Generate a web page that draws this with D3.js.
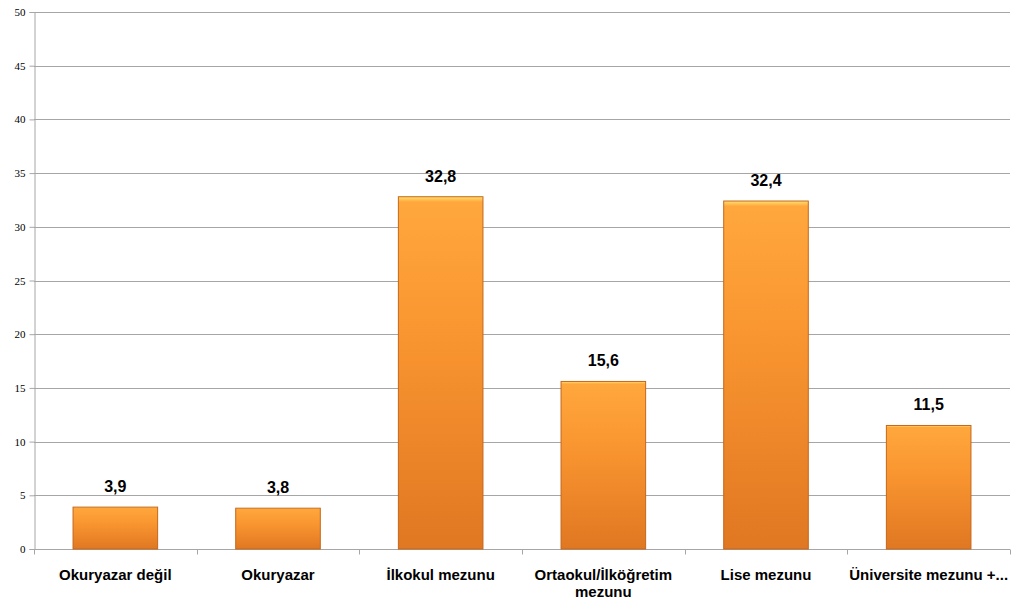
<!DOCTYPE html>
<html>
<head>
<meta charset="utf-8">
<script src="https://cdn.jsdelivr.net/npm/d3@7"></script>
<style>
  body { margin: 0; background: #fff; }
  svg { display: block; }
</style>
</head>
<body>
<svg width="1024" height="611"></svg>
<script>
// chart data
var categories = ['Okuryazar değil', 'Okuryazar', 'İlkokul mezunu', 'Ortaokul/İlköğretim mezunu', 'Lise mezunu', 'Üniversite mezunu +...'];
var values = [3.9, 3.8, 32.8, 15.6, 32.4, 11.5];
var yTicks = [0, 5, 10, 15, 20, 25, 30, 35, 40, 45, 50];

var svg = d3.select('svg');
var svgWidth = +svg.attr('width');
var svgHeight = +svg.attr('height');

var padding = {t: 12, r: 14, b: 62, l: 34};
var chartWidth = svgWidth - padding.l - padding.r;
var chartHeight = svgHeight - padding.t - padding.b;

var chartG = svg.append('g')
  .attr('transform', 'translate(' + [padding.l, padding.t] + ')');

var xScale = d3.scaleBand()
  .domain(categories)
  .range([0, chartWidth])
  .paddingInner(0.48)
  .paddingOuter(0.24);

var yScale = d3.scaleLinear()
  .domain([0, 50])
  .range([chartHeight, 0]);

// gradient for bars
var defs = svg.append('defs');
var grad = defs.append('linearGradient')
  .attr('id', 'bar-gradient')
  .attr('x1', 0).attr('y1', 0).attr('x2', 0).attr('y2', 1);
grad.selectAll('stop')
  .data([
    {offset: '0%', color: '#ffe070'},
    {offset: '1.5%', color: '#ffa73c'},
    {offset: '40%', color: '#f99530'},
    {offset: '100%', color: '#e07722'}
  ])
  .enter().append('stop')
  .attr('offset', function(d) { return d.offset; })
  .attr('stop-color', function(d) { return d.color; });

// gridlines
chartG.append('g')
  .selectAll('line')
  .data(yTicks)
  .enter().append('line')
  .attr('x1', 0)
  .attr('x2', chartWidth)
  .attr('y1', function(d) { return Math.round(yScale(d)) + 0.5; })
  .attr('y2', function(d) { return Math.round(yScale(d)) + 0.5; })
  .attr('stroke', '#a6a6a6')
  .attr('stroke-width', 1);

// y axis
var yAxis = chartG.append('g')
  .attr('transform', 'translate(0.5,0)')
  .call(d3.axisLeft(yScale).tickValues(yTicks).tickSize(5).tickPadding(4));
yAxis.selectAll('line, path').attr('stroke', '#a6a6a6');
yAxis.selectAll('text')
  .style('font-family', '"Liberation Serif", "DejaVu Serif", serif')
  .style('font-size', '11px')
  .attr('fill', '#000');

// x axis with ticks at band edges
var xAxisG = chartG.append('g')
  .attr('transform', 'translate(0,' + (Math.round(chartHeight) + 0.5) + ')');
xAxisG.append('line')
  .attr('x1', 0).attr('x2', chartWidth)
  .attr('stroke', '#a6a6a6');
var edges = d3.range(categories.length + 1).map(function(i) { return chartWidth * i / categories.length; });
xAxisG.selectAll('.edge')
  .data(edges)
  .enter().append('line')
  .attr('class', 'edge')
  .attr('x1', function(d) { return Math.round(d) + 0.5; })
  .attr('x2', function(d) { return Math.round(d) + 0.5; })
  .attr('y1', 0).attr('y2', 5)
  .attr('stroke', '#a6a6a6');

// category labels
var catLabels = xAxisG.selectAll('.cat')
  .data(categories)
  .enter().append('text')
  .attr('class', 'cat')
  .attr('x', function(d) { return xScale(d) + xScale.bandwidth() / 2; })
  .attr('y', 30)
  .attr('text-anchor', 'middle')
  .style('font-family', '"Liberation Sans", Arial, sans-serif')
  .style('font-weight', 'bold')
  .style('font-size', '15px')
  .attr('fill', '#000');
catLabels.each(function(d) {
  var el = d3.select(this);
  var parts = d === 'Ortaokul/İlköğretim mezunu' ? ['Ortaokul/İlköğretim', 'mezunu'] : [d];
  parts.forEach(function(p, i) {
    el.append('tspan')
      .attr('x', xScale(d) + xScale.bandwidth() / 2)
      .attr('dy', i === 0 ? 0 : 17)
      .text(p);
  });
});

// bars
chartG.append('g')
  .selectAll('rect')
  .data(values)
  .enter().append('rect')
  .attr('x', function(d, i) { return xScale(categories[i]); })
  .attr('y', function(d) { return yScale(d); })
  .attr('width', xScale.bandwidth())
  .attr('height', function(d) { return chartHeight - yScale(d); })
  .attr('fill', 'url(#bar-gradient)')
  .attr('stroke', '#c5671a')
  .attr('stroke-width', 1);

// value labels
chartG.append('g')
  .selectAll('text')
  .data(values)
  .enter().append('text')
  .attr('x', function(d, i) { return xScale(categories[i]) + xScale.bandwidth() / 2; })
  .attr('y', function(d) { return yScale(d) - 15; })
  .attr('text-anchor', 'middle')
  .style('font-family', '"Liberation Sans", Arial, sans-serif')
  .style('font-weight', 'bold')
  .style('font-size', '16px')
  .attr('fill', '#000')
  .text(function(d) { return d.toFixed(1).replace('.', ','); });
</script>
</body>
</html>
